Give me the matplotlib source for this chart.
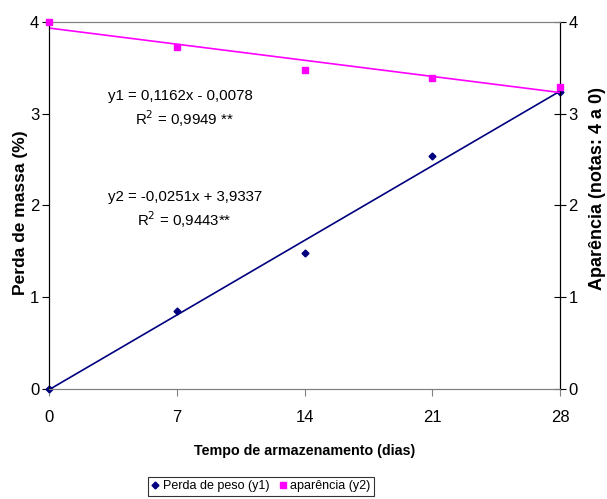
import matplotlib
matplotlib.use("Agg")
import matplotlib.pyplot as plt
import numpy as np

days = [0, 7, 14, 21, 28]
perda = [0.0, 0.85, 1.48, 2.54, 3.24]
aparencia = [4.0, 3.73, 3.48, 3.39, 3.29]
fit1 = [0.1162, -0.0078]
fit2 = [-0.0251, 3.9337]
xticks = [0, 7, 14, 21, 28]
yticks = [0, 1, 2, 3, 4]

plt.rcParams['font.family'] = ['Liberation Sans', 'DejaVu Sans']

fig = plt.figure(figsize=(6.07, 4.99), dpi=100)
ax = fig.add_axes([0.0807, 0.2204, 0.8419, 0.7356])
ax2 = ax.twinx()

xx = np.array([days[0], days[-1]])
navy = '#000080'
mag = '#FF00FF'
ax.plot(xx, np.polyval(fit1, xx), color=navy, lw=1.2, zorder=2)
ax.plot(days, perda, linestyle='none', marker='D', ms=3.5, color=navy, zorder=3,
        clip_on=False, label='Perda de peso (y1)')
ax2.plot(xx, np.polyval(fit2, xx), color=mag, lw=1.2, zorder=2)
ax2.plot(days, aparencia, linestyle='none', marker='s', ms=5, color=mag, zorder=3,
         clip_on=False, label='aparência (y2)')

for a in (ax, ax2):
    a.set_xlim(0, 28)
    a.set_ylim(0, 4)
    a.set_yticks(yticks)
    a.spines['top'].set_color('#808080')
    a.spines['bottom'].set_color('#808080')
    a.spines['left'].set_color('black')
    a.spines['right'].set_color('black')

ax.set_xticks(xticks)
ax.tick_params(axis='x', direction='out', length=5, labelsize=12, pad=10, color='#808080')
ax.tick_params(axis='y', direction='out', length=5, labelsize=12, pad=2)
ax2.tick_params(axis='y', direction='inout', length=8, labelsize=12, pad=2)

ax.set_xlabel('Tempo de armazenamento (dias)', fontsize=10.3, fontweight='bold', labelpad=14)
ax.set_ylabel('Perda de massa (%)', fontsize=12.5, fontweight='bold')
ax.yaxis.set_label_coords(-0.041, 0.48)
ax2.set_ylabel('Aparência (notas: 4 a 0)', fontsize=13, fontweight='bold')
ax2.yaxis.set_label_coords(1.057, 0.545)

tkw = dict(transform=ax.transAxes, fontsize=10.8, ha='left', va='center')
ax.text(0.115, 0.797, 'y1 = 0,1162x - 0,0078', **tkw)
ax.text(0.168, 0.737, 'R$^2$ = 0,9949 **', **tkw)
ax.text(0.115, 0.524, 'y2 = -0,0251x + 3,9337', **tkw)
ax.text(0.172, 0.462, 'R$^2$ = 0,9443**', **tkw)

h1, l1 = ax.get_legend_handles_labels()
h2, l2 = ax2.get_legend_handles_labels()
leg = fig.legend(h1 + h2, l1 + l2, loc='center', bbox_to_anchor=(0.43, 0.0255), ncol=2,
                 fontsize=9, frameon=True, fancybox=False, edgecolor='black',
                 handlelength=0.6, handletextpad=0.3, columnspacing=0.8,
                 borderpad=0.3, borderaxespad=0)
leg.get_frame().set_linewidth(0.8)

fig.savefig('out.png', dpi=100)
